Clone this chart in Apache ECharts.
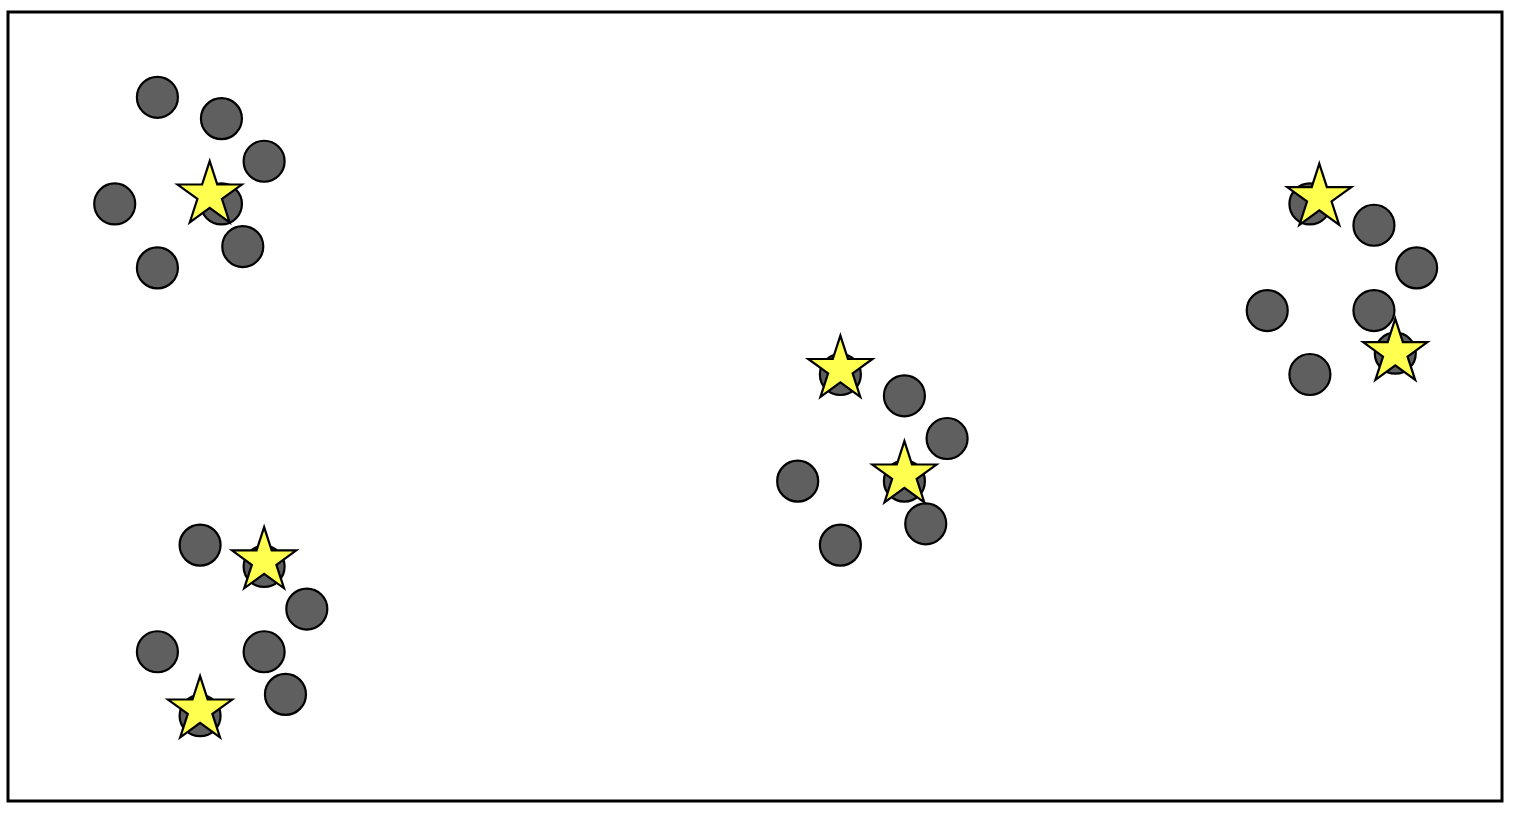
<!DOCTYPE html>
<html>
<head>
<meta charset="utf-8">
<script src="https://cdn.jsdelivr.net/npm/echarts@6/dist/echarts.min.js"></script>
<style>
html,body{margin:0;padding:0;background:#fff;}
#chart{width:1522px;height:818px;}
</style>
</head>
<body>
<div id="chart"></div>
<script>
// Gray circle points (x, y measured downward from top of frame)
const circleX = [7, 10, 12, 5, 10, 11, 7,
                 9, 12, 14, 7, 12, 13, 9,
                 39, 42, 44, 37, 42, 43, 39,
                 61, 64, 66, 59, 64, 65, 61];
const circleY = [4, 5, 7, 9, 9, 11, 12,
                 25, 26, 28, 30, 30, 32, 33,
                 17, 18, 20, 22, 22, 24, 25,
                 9, 10, 12, 14, 14, 16, 17];
// Yellow star points
const starX = [9.45, 12, 9, 39, 42, 61.44, 65];
const starY = [8.58, 25.74, 32.73, 16.76, 21.71, 8.7, 15.97];

const xRange = [0, 70];
const yRange = [0, 37];

// star path (5 points, inner ratio 0.382)
function starPath() {
  const pts = [];
  for (let i = 0; i < 10; i++) {
    const a = -Math.PI / 2 + i * Math.PI / 5;
    const r = i % 2 === 0 ? 1 : 0.381966;
    pts.push((r * Math.cos(a) * 100).toFixed(3) + ',' + (r * Math.sin(a) * 100).toFixed(3));
  }
  return 'path://M' + pts.join('L') + 'Z';
}
const R = 33.8;

const chart = echarts.init(document.getElementById('chart'), null, {renderer: 'canvas'});
chart.setOption({
  animation: false,
  backgroundColor: '#ffffff',
  grid: {
    left: 8, right: 20, top: 12, bottom: 17,
    show: true, borderColor: '#000000', borderWidth: 3, backgroundColor: 'transparent'
  },
  xAxis: {
    type: 'value', min: xRange[0], max: xRange[1],
    axisLine: {show: false}, axisTick: {show: false}, axisLabel: {show: false}, splitLine: {show: false}
  },
  yAxis: {
    type: 'value', min: yRange[0], max: yRange[1], inverse: true,
    axisLine: {show: false}, axisTick: {show: false}, axisLabel: {show: false}, splitLine: {show: false}
  },
  series: [
    {
      type: 'scatter',
      data: circleX.map((x, i) => [x, circleY[i]]),
      symbol: 'circle',
      symbolSize: 41,
      clip: false,
      itemStyle: {color: '#5f5f5f', borderColor: '#000000', borderWidth: 2.2, opacity: 1},
      z: 2
    },
    {
      type: 'scatter',
      data: starX.map((x, i) => [x, starY[i]]),
      symbol: starPath(),
      symbolSize: [2 * 0.951057 * R, 1.809017 * R],
      symbolOffset: [0, '-5.28%'],
      symbolKeepAspect: false,
      clip: false,
      itemStyle: {color: '#ffff4f', borderColor: '#000000', borderWidth: 2.2, borderJoin: 'miter', borderMiterLimit: 10, opacity: 1},
      z: 3
    }
  ]
});
</script>
</body>
</html>
